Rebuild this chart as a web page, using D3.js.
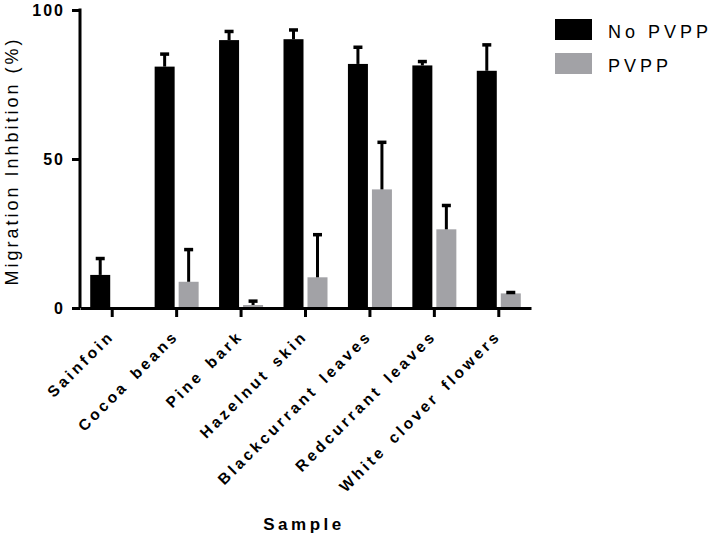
<!DOCTYPE html>
<html>
<head>
<meta charset="utf-8">
<script src="https://cdn.jsdelivr.net/npm/d3@7"></script>
<style>
  html, body { margin: 0; padding: 0; background: #fff; }
  svg { display: block; }
  text { font-family: "Liberation Sans", Arial, sans-serif; fill: #000; }
</style>
</head>
<body>
<svg id="chart" width="711" height="539"></svg>
<script>
const categories = ["Sainfoin", "Cocoa beans", "Pine bark", "Hazelnut skin",
  "Blackcurrant leaves", "Redcurrant leaves", "White clover flowers"];
const seriesNames = ["No PVPP", "PVPP"];
const noPvpp =      [11.1, 81.0, 89.9, 90.2, 81.9, 81.4, 79.6];
const noPvppErr =   [5.5, 4.2, 2.9, 3.1, 5.6, 1.3, 8.7];
const pvpp =        [0, 8.8, 1.0, 10.3, 39.8, 26.4, 4.9];
const pvppErr =     [0, 10.8, 1.3, 14.3, 15.8, 8.0, 0.3];
const yTicks = [0, 50, 100];
const colors = ["#000000", "#a2a2a6"];

const svg = d3.select("#chart");
svg.append("rect").attr("width", 711).attr("height", 539).attr("fill", "#fff");

const y = d3.scaleLinear().domain([0, 100]).range([308, 10]);
const x = d3.scaleBand().domain(categories).range([80, 531]).padding(0);
const x1 = d3.scaleBand().domain(seriesNames).range([-22, 22]).paddingInner(1/6);

const rows = categories.map((c, i) => ({
  cat: c,
  vals: [
    { s: seriesNames[0], v: noPvpp[i], e: noPvppErr[i] },
    { s: seriesNames[1], v: pvpp[i], e: pvppErr[i] }
  ]
}));

const g = svg.append("g");
const groups = g.selectAll("g.grp").data(rows).join("g")
  .attr("transform", d => `translate(${x(d.cat) + x.bandwidth() / 2},0)`);

groups.selectAll("rect").data(d => d.vals.filter(v => v.v > 0)).join("rect")
  .attr("x", d => x1(d.s))
  .attr("width", x1.bandwidth())
  .attr("y", d => y(d.v))
  .attr("height", d => y(0) - y(d.v))
  .attr("fill", d => colors[seriesNames.indexOf(d.s)]);

// error bars (upper only)
const eb = groups.selectAll("g.eb").data(d => d.vals.filter(v => v.v > 0)).join("g");
eb.append("line")
  .attr("x1", d => x1(d.s) + x1.bandwidth() / 2)
  .attr("x2", d => x1(d.s) + x1.bandwidth() / 2)
  .attr("y1", d => y(d.v))
  .attr("y2", d => y(d.v + d.e))
  .attr("stroke", "#000").attr("stroke-width", 3);
eb.append("line")
  .attr("x1", d => x1(d.s) + x1.bandwidth() / 2 - 4.5)
  .attr("x2", d => x1(d.s) + x1.bandwidth() / 2 + 4.5)
  .attr("y1", d => y(d.v + d.e))
  .attr("y2", d => y(d.v + d.e))
  .attr("stroke", "#000").attr("stroke-width", 3.5);

// Y axis
const yAxis = svg.append("g").attr("transform", "translate(80,0)")
  .call(d3.axisLeft(y).tickValues(yTicks).tickSize(8).tickSizeOuter(0).tickPadding(7).tickFormat(d3.format("d")));
yAxis.select(".domain").attr("stroke-width", 3).attr("d", `M0,${y(100) - 1.5}V${y(0)}`);
yAxis.selectAll(".tick line").attr("stroke-width", 3);
yAxis.selectAll(".tick text")
  .style("font-size", "16px").style("font-weight", "bold").style("letter-spacing", "2px")
  .attr("dy", "0.36em");

// X axis
const xAxis = svg.append("g").attr("transform", `translate(0,${y(0)})`)
  .call(d3.axisBottom(x).tickSize(9).tickSizeOuter(0).tickFormat(""));
xAxis.select(".domain").attr("stroke-width", 3);
xAxis.selectAll(".tick line").attr("stroke-width", 3);

// X labels rotated
svg.append("g").selectAll("text").data(categories).join("text")
  .attr("transform", d => `translate(${x(d) + x.bandwidth() / 2 + 3},${337}) rotate(-45)`)
  .attr("text-anchor", "end")
  .style("font-size", "15.5px").style("font-weight", "bold")
  .style("letter-spacing", "3.2px").style("word-spacing", "3px")
  .text(d => d);

// Axis titles
svg.append("text")
  .attr("transform", "translate(18,161) rotate(-90)")
  .attr("text-anchor", "middle")
  .style("font-size", "18px").style("letter-spacing", "3px")
  .text("Migration Inhbition (%)");

svg.append("text")
  .attr("x", 304).attr("y", 530)
  .attr("text-anchor", "middle")
  .style("font-size", "17px").style("font-weight", "bold").style("letter-spacing", "3.5px")
  .text("Sample");

// Legend
const leg = svg.append("g").selectAll("g").data(seriesNames).join("g")
  .attr("transform", (d, i) => `translate(555,${19 + i * 34})`);
leg.append("rect").attr("width", 37).attr("height", 21)
  .attr("fill", (d, i) => colors[i]);
leg.append("text").attr("x", 53).attr("y", 19)
  .style("font-size", "18px").style("letter-spacing", "4px")
  .text(d => d);
</script>
</body>
</html>
